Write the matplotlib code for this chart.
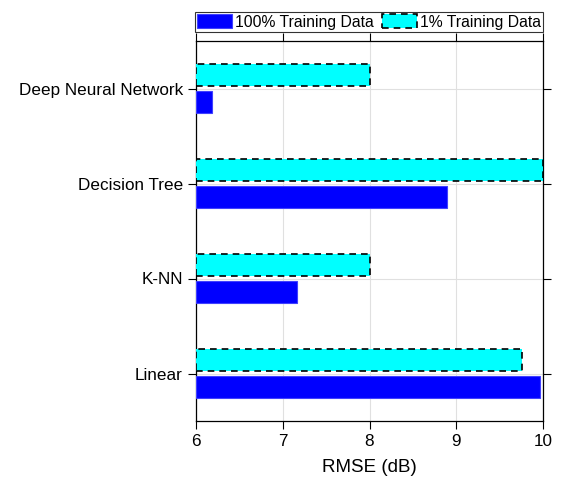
import matplotlib
matplotlib.use("Agg")
import matplotlib.pyplot as plt
import numpy as np

plt.rcParams['font.family'] = ['Liberation Sans', 'DejaVu Sans']

categories = ["Linear", "K-NN", "Decision Tree", "Deep Neural Network"]
full_data = [9.96, 7.16, 8.89, 6.18]
one_pct = [9.76, 8.01, 10.0, 8.0]
xticks = [6, 7, 8, 9, 10]

fig = plt.figure(figsize=(5.62, 4.79), dpi=100)
ax = fig.add_axes([196/562, 1-421/479, (543-196)/562, (421-41)/479])

y = np.arange(1, len(categories)+1)
h = 0.23
off = 0.14
ax.barh(y - off, np.array(full_data) - 6, left=6, height=h, color='#0000ff',
        edgecolor='#4040ff', linewidth=0.8, label='100% Training Data', zorder=3)
ax.barh(y + off, np.array(one_pct) - 6, left=6, height=h, color='#00ffff',
        edgecolor='black', linestyle=(0, (4, 3)), linewidth=1.2,
        label='1% Training Data', zorder=3)

ax.set_xlim(6, 10)
ax.set_ylim(0.5, 4.5)
ax.set_yticks(y)
ax.set_yticklabels(categories, fontsize=12.3)
ax.set_xticks(xticks)
ax.set_xticklabels([str(t) for t in xticks], fontsize=12.3)
ax.set_xlabel("RMSE (dB)", fontsize=13.5, labelpad=7)
ax.grid(True, color='#e0e0e0', linewidth=0.8, zorder=0)
ax.set_axisbelow(True)
ax.tick_params(direction='out', length=6, top=True, right=True, width=0.8)
for s in ax.spines.values():
    s.set_linewidth(0.9)

leg = fig.legend(loc='lower left', bbox_to_anchor=(195/562, 1-32/479, (543-195)/562, 22/479),
                 mode='expand', ncol=2, fontsize=11.3, frameon=True, fancybox=False,
                 handlelength=2.2, handleheight=0.95, handletextpad=0.2, borderpad=0.15,
                 borderaxespad=0, columnspacing=0.3)
leg.get_frame().set_edgecolor('black')
leg.get_frame().set_linewidth(0.8)

fig.savefig("out.png", dpi=100)
